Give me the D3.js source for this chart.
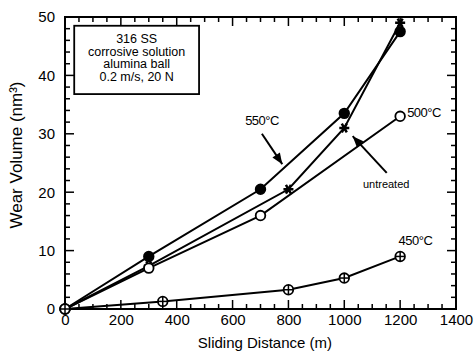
<!DOCTYPE html>
<html lang="en">
<head>
  <meta charset="UTF-8">
  <title>Wear volume vs sliding distance</title>
  <script src="https://d3js.org/d3.v7.min.js"></script>
  <style>
    body {margin: 0; padding: 0; background: #fff;}
    svg {display: block; font-family: "Liberation Sans", sans-serif;}
    .tick text {font-size: 15px; fill: #000;}
  </style>
</head>
<body>
  <div id="chart"></div>
  <script>
    // values
    const xTicks = [0, 200, 400, 600, 800, 1000, 1200, 1400];
    const yTicks = [0, 10, 20, 30, 40, 50];

    const dist550 = [0, 300, 700, 1000, 1200];
    const wear550 = [0, 9, 20.5, 33.5, 47.5];
    const distUntr = [0, 300, 800, 1000, 1200];
    const wearUntr = [0, 7.4, 20.5, 31, 49];
    const dist500 = [0, 300, 700, 1200];
    const wear500 = [0, 7, 16, 33];
    const dist450 = [0, 350, 800, 1000, 1200];
    const wear450 = [0, 1.3, 3.3, 5.3, 9];

    const boxLines = ["316 SS", "corrosive solution", "alumina ball", "0.2 m/s, 20 N"];

    const W = 476, H = 353;
    const margin = {top: 17, right: 20, bottom: 44, left: 65};
    const w = W - margin.left - margin.right;
    const h = H - margin.top - margin.bottom;

    const svg = d3.select("#chart").append("svg")
      .attr("width", W).attr("height", H);
    const g = svg.append("g").attr("transform", `translate(${margin.left},${margin.top})`);

    const x = d3.scaleLinear().domain([0, 1400]).range([0, w]);
    const y = d3.scaleLinear().domain([0, 50]).range([h, 0]);

    // frame
    g.append("rect").attr("width", w).attr("height", h)
      .attr("fill", "none").attr("stroke", "#000").attr("stroke-width", 2);

    // minor / major inward ticks on all four sides
    const xMinor = d3.range(0, 1401, 50);
    const yMinor = d3.range(0, 51, 2);
    const tk = g.append("g").attr("stroke", "#000").attr("stroke-width", 1.5);
    xMinor.forEach(v => {
      const len = v % 200 === 0 ? 9 : 5;
      tk.append("line").attr("x1", x(v)).attr("x2", x(v)).attr("y1", h).attr("y2", h - len);
      tk.append("line").attr("x1", x(v)).attr("x2", x(v)).attr("y1", 0).attr("y2", len);
    });
    yMinor.forEach(v => {
      const len = v % 10 === 0 ? 9 : 5;
      tk.append("line").attr("x1", 0).attr("x2", len).attr("y1", y(v)).attr("y2", y(v));
      tk.append("line").attr("x1", w).attr("x2", w - len).attr("y1", y(v)).attr("y2", y(v));
    });

    // axis labels via d3 axes
    const xAxis = g.append("g").attr("transform", `translate(0,${h})`)
      .call(d3.axisBottom(x).tickValues(xTicks).tickSize(0).tickPadding(5).tickFormat(d3.format("d")));
    xAxis.select(".domain").remove();
    const yAxis = g.append("g")
      .call(d3.axisLeft(y).tickValues(yTicks).tickSize(0).tickPadding(10));
    yAxis.select(".domain").remove();

    svg.append("text").attr("x", margin.left + x(716)).attr("y", H - 5)
      .attr("text-anchor", "middle").attr("font-size", 15).text("Sliding Distance (m)");
    svg.append("text").attr("transform", `translate(22,155) rotate(-90)`)
      .attr("text-anchor", "middle").attr("font-size", 17)
      .text("Wear Volume (nm³)");

    const line = d3.line().x(d => x(d[0])).y(d => y(d[1]));
    const series = [
      {dx: dist550, dy: wear550, mark: "filled"},
      {dx: distUntr, dy: wearUntr, mark: "star"},
      {dx: dist500, dy: wear500, mark: "open"},
      {dx: dist450, dy: wear450, mark: "cross"}
    ];

    series.forEach(s => {
      const pts = s.dx.map((d, i) => [d, s.dy[i]]);
      g.append("path").datum(pts).attr("d", line)
        .attr("fill", "none").attr("stroke", "#000").attr("stroke-width", 2);
    });

    series.forEach(s => {
      const pts = s.dx.map((d, i) => [d, s.dy[i]]);
      const m = g.append("g");
      pts.forEach(p => {
        const cx = x(p[0]), cy = y(p[1]);
        if (s.mark === "star") {
          m.append("path").attr("transform", `translate(${cx},${cy}) rotate(90)`)
            .attr("d", d3.symbol(d3.symbolAsterisk, 70)())
            .attr("fill", "none").attr("stroke", "#000").attr("stroke-width", 2.5);
        } else {
          m.append("circle").attr("cx", cx).attr("cy", cy).attr("r", 4.8)
            .attr("fill", s.mark === "filled" ? "#000" : "#fff")
            .attr("stroke", "#000").attr("stroke-width", 1.8);
          if (s.mark === "cross") {
            m.append("line").attr("x1", cx - 4.8).attr("x2", cx + 4.8).attr("y1", cy).attr("y2", cy)
              .attr("stroke", "#000").attr("stroke-width", 1.5);
            m.append("line").attr("x1", cx).attr("x2", cx).attr("y1", cy - 4.8).attr("y2", cy + 4.8)
              .attr("stroke", "#000").attr("stroke-width", 1.5);
          }
        }
      });
    });

    // annotations
    const arrow = (x1, y1, x2, y2) => {
      const ax = x(x1), ay = y(y1), bx = x(x2), by = y(y2);
      g.append("line").attr("x1", ax).attr("y1", ay).attr("x2", bx).attr("y2", by)
        .attr("stroke", "#000").attr("stroke-width", 2);
      const ang = Math.atan2(by - ay, bx - ax) * 180 / Math.PI;
      g.append("path").attr("d", "M0,0L-11,-4.5L-11,4.5Z")
        .attr("transform", `translate(${bx},${by}) rotate(${ang})`).attr("fill", "#000");
    };
    g.append("text").attr("x", x(645)).attr("y", y(31.5)).attr("font-size", 13)
      .attr("letter-spacing", -0.5).text("550°C");
    arrow(705, 30, 778, 24.8);
    g.append("text").attr("x", x(1225)).attr("y", y(32.8)).attr("font-size", 13)
      .attr("letter-spacing", -0.5).text("500°C");
    g.append("text").attr("x", x(1150)).attr("y", y(20.7)).attr("font-size", 11)
      .attr("text-anchor", "middle").text("untreated");
    arrow(1152, 23.3, 1030, 29.6);
    g.append("text").attr("x", x(1255)).attr("y", y(10.9)).attr("font-size", 13)
      .attr("text-anchor", "middle").attr("letter-spacing", -0.5).text("450°C");

    // condition box
    const bx0 = x(33), by0 = y(48.5), bx1 = x(480), by1 = y(36.8);
    g.append("rect").attr("x", bx0).attr("y", by0).attr("width", bx1 - bx0).attr("height", by1 - by0)
      .attr("fill", "#fff").attr("stroke", "#000").attr("stroke-width", 1.8);
    g.append("g").selectAll("text").data(boxLines).join("text")
      .attr("x", (bx0 + bx1) / 2).attr("y", (d, i) => by0 + 17 + i * 12.8)
      .attr("text-anchor", "middle").attr("font-size", 12.5).text(d => d);
  </script>
</body>
</html>
